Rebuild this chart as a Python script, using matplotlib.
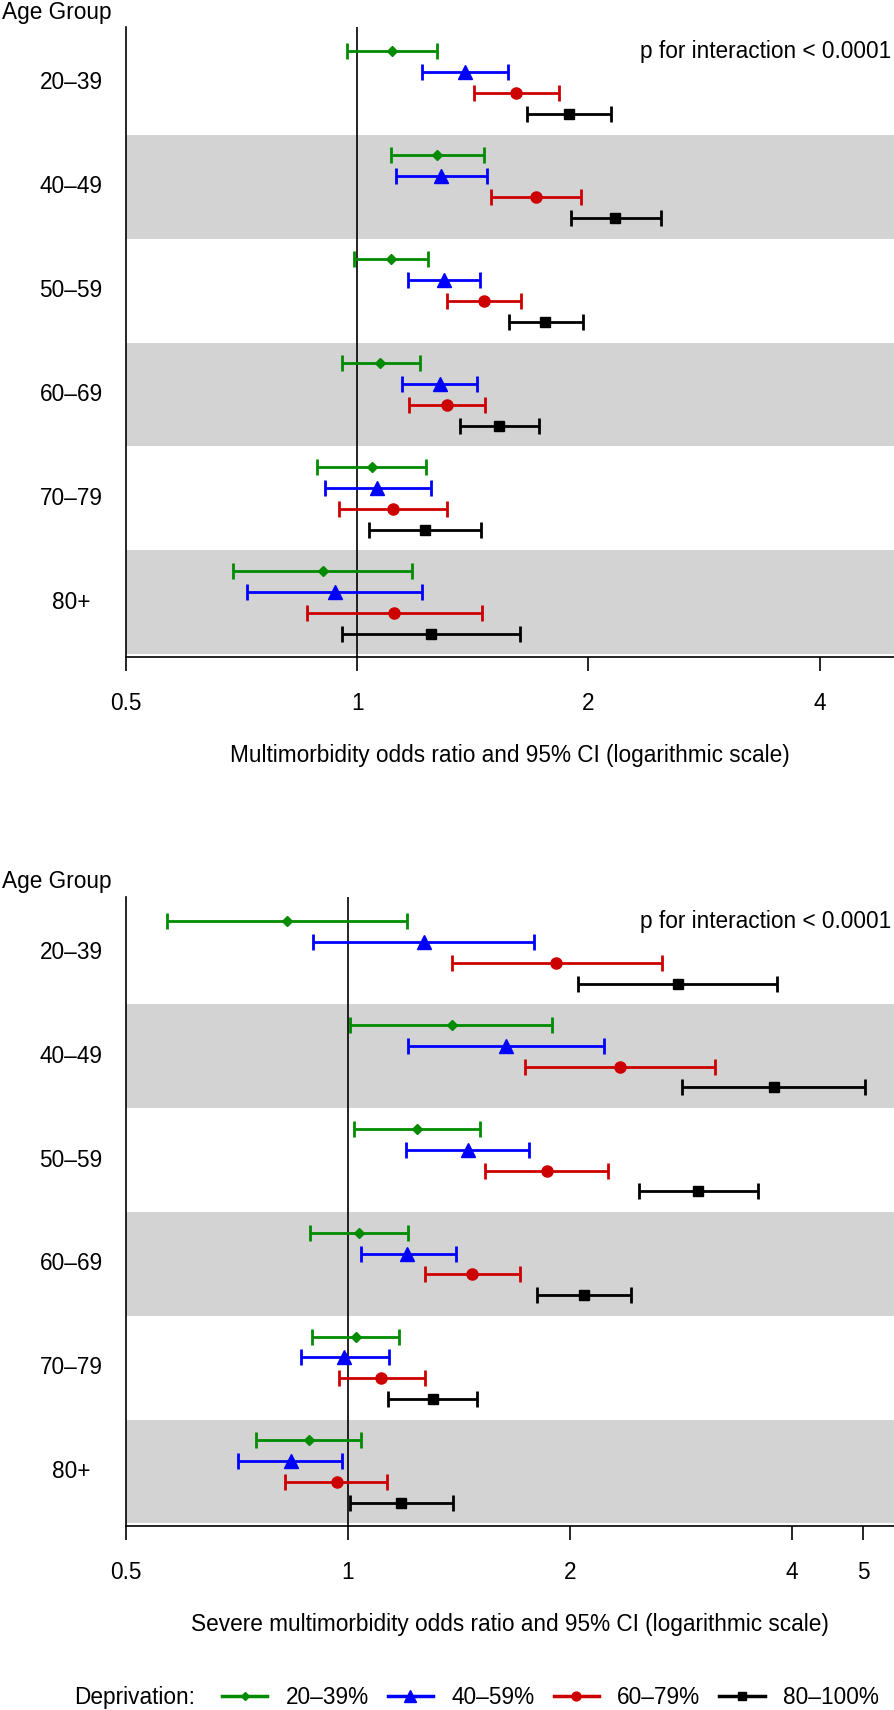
import numpy as np
import matplotlib
matplotlib.use("Agg")
import matplotlib.pyplot as plt
from matplotlib.ticker import FixedLocator, NullLocator, FixedFormatter
from matplotlib.lines import Line2D

plt.rcParams['font.family'] = ['Liberation Sans', 'DejaVu Sans']

age_groups = ['20\u201339', '40\u201349', '50\u201359', '60\u201369', '70\u201379', '80+']
deprivation = ['20\u201339%', '40\u201359%', '60\u201379%', '80\u2013100%']

# multimorbidity: odds ratio, lower, upper  (rows = age group, cols = deprivation)
mm_or = [[1.110, 1.383, 1.611, 1.887],
         [1.272, 1.285, 1.708, 2.168],
         [1.108, 1.298, 1.464, 1.758],
         [1.071, 1.280, 1.309, 1.530],
         [1.045, 1.062, 1.112, 1.224],
         [0.902, 0.935, 1.116, 1.248]]
mm_lo = [[0.971, 1.216, 1.419, 1.662],
         [1.108, 1.124, 1.494, 1.896],
         [0.991, 1.163, 1.309, 1.576],
         [0.955, 1.145, 1.167, 1.362],
         [0.887, 0.907, 0.948, 1.036],
         [0.690, 0.718, 0.860, 0.955]]
mm_hi = [[1.272, 1.573, 1.829, 2.142],
         [1.464, 1.474, 1.959, 2.483],
         [1.237, 1.444, 1.636, 1.966],
         [1.206, 1.434, 1.468, 1.723],
         [1.229, 1.248, 1.309, 1.449],
         [1.179, 1.216, 1.454, 1.631]]

# severe multimorbidity
smm_or = [[0.827, 1.266, 1.913, 2.798],
          [1.382, 1.637, 2.341, 3.778],
          [1.239, 1.453, 1.859, 2.984],
          [1.034, 1.204, 1.473, 2.088],
          [1.025, 0.989, 1.109, 1.303],
          [0.884, 0.836, 0.965, 1.179]]
smm_lo = [[0.569, 0.897, 1.382, 2.051],
          [1.005, 1.206, 1.737, 2.834],
          [1.020, 1.200, 1.535, 2.483],
          [0.887, 1.042, 1.273, 1.803],
          [0.895, 0.864, 0.972, 1.133],
          [0.750, 0.710, 0.822, 1.005]]
smm_hi = [[1.202, 1.787, 2.662, 3.818],
          [1.892, 2.226, 3.149, 5.028],
          [1.511, 1.762, 2.250, 3.593],
          [1.206, 1.402, 1.709, 2.421],
          [1.174, 1.135, 1.273, 1.495],
          [1.042, 0.982, 1.129, 1.387]]

colors = ['#008B00', '#0000FF', '#CD0000', '#000000']
markers = ['D', '^', 'o', 's']
msizes = [5.5, 10, 8, 7.5]
offsets = [0.3, 0.1, -0.1, -0.3]

W, H = 894, 1710
fig = plt.figure(figsize=(W / 100, H / 100), dpi=100)

FS = 16.3


def make_panel(top_px, bot_px, ors, los, his, xmax, ticks, ticklabels, xlabel):
    ax = fig.add_axes([126 / W, 1 - bot_px / H, 1 - 126 / W, (bot_px - top_px) / H])
    ax.set_xscale('log')
    ax.set_xlim(0.5, xmax)
    ax.set_ylim(0.475, 6.535)
    for i in range(len(age_groups)):
        yc = 6 - i
        if i % 2 == 1:
            ax.axhspan(yc - 0.5, yc + 0.5, color='#D3D3D3', lw=0, zorder=0)
        ax.text(-0.0716, yc, age_groups[i], transform=ax.get_yaxis_transform(),
                ha='center', va='center', fontsize=FS)
    ax.axvline(1, color='black', lw=1.2, zorder=1)
    for j in range(len(deprivation)):
        y = [6 - i + offsets[j] for i in range(len(age_groups))]
        o = np.array([r[j] for r in ors])
        lo = np.array([r[j] for r in los])
        hi = np.array([r[j] for r in his])
        ax.errorbar(o, y, xerr=[o - lo, hi - o], fmt=markers[j], color=colors[j],
                    ms=msizes[j], elinewidth=2, capsize=6, capthick=2, zorder=3)
    ax.spines['top'].set_visible(False)
    ax.spines['right'].set_visible(False)
    ax.spines['left'].set_linewidth(1.2)
    ax.spines['bottom'].set_linewidth(1.2)
    ax.set_yticks([])
    ax.xaxis.set_major_locator(FixedLocator(ticks))
    ax.xaxis.set_major_formatter(FixedFormatter(ticklabels))
    ax.xaxis.set_minor_locator(NullLocator())
    ax.tick_params(axis='x', length=10, width=1.2, pad=15, labelsize=FS)
    ax.set_xlabel(xlabel, fontsize=FS)
    ax.xaxis.set_label_coords(0.5, -0.138)
    ax.text(0.996, 6.3, 'p for interaction < 0.0001', transform=ax.get_yaxis_transform(),
            ha='right', va='center', fontsize=FS)
    return ax


make_panel(27, 657, mm_or, mm_lo, mm_hi, 5.0, [0.5, 1, 2, 4], ['0.5', '1', '2', '4'],
           'Multimorbidity odds ratio and 95% CI (logarithmic scale)')
make_panel(897, 1526, smm_or, smm_lo, smm_hi, 5.5, [0.5, 1, 2, 4, 5], ['0.5', '1', '2', '4', '5'],
           'Severe multimorbidity odds ratio and 95% CI (logarithmic scale)')

fig.text(2 / W, 1 - 13 / H, 'Age Group', ha='left', va='center', fontsize=FS)
fig.text(2 / W, 1 - 881 / H, 'Age Group', ha='left', va='center', fontsize=FS)

# legend
fig.text(74 / W, 1 - 1697 / H, 'Deprivation:', ha='left', va='center', fontsize=FS)
handles = [Line2D([], [], color=colors[j], marker=markers[j], ms=msizes[j] * 0.8, lw=2.5)
           for j in range(len(deprivation))]
fig.legend(handles, deprivation, loc='center left', bbox_to_anchor=(222 / W, 1 - 1697 / H),
           ncol=4, frameon=False, fontsize=FS, handlelength=2.0, handletextpad=0.8,
           columnspacing=0.85, borderpad=0, borderaxespad=0)

fig.savefig('out.png', dpi=100)
